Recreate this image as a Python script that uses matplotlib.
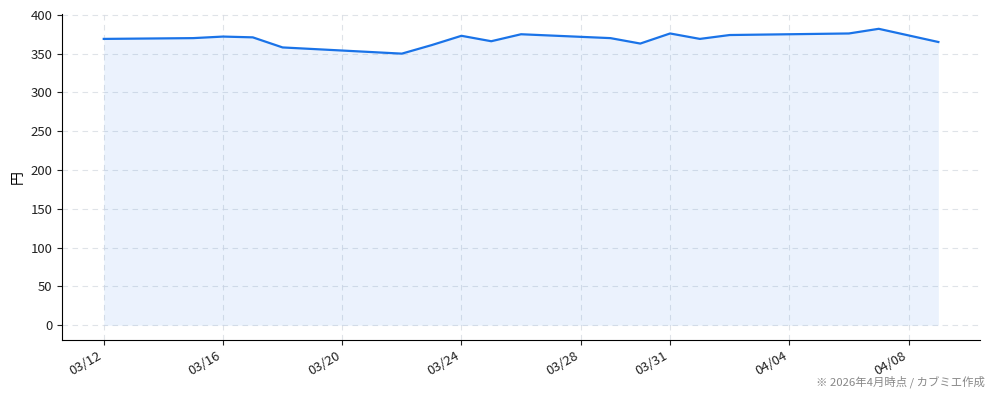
import matplotlib
matplotlib.use("Agg")
import matplotlib.pyplot as plt
import matplotlib.dates as mdates
import pandas as pd

plt.rcParams['font.family'] = ['Noto Sans CJK JP', 'DejaVu Sans']

dates = ["2026-03-12", "2026-03-15", "2026-03-16", "2026-03-17", "2026-03-18",
         "2026-03-22", "2026-03-23", "2026-03-24", "2026-03-25", "2026-03-26",
         "2026-03-29", "2026-03-30", "2026-03-31", "2026-04-01", "2026-04-02",
         "2026-04-06", "2026-04-07", "2026-04-09"]
prices = [369, 370, 372, 371, 358,
          350, 361, 373, 366, 375,
          370, 363, 376, 369, 374,
          376, 382, 365]
tick_dates = ["2026-03-12", "2026-03-16", "2026-03-20", "2026-03-24",
              "2026-03-28", "2026-03-31", "2026-04-04", "2026-04-08"]
y_label = "円"
note = "※ 2026年4月時点 / カブミエ作成"

x = pd.to_datetime(dates)
xt = pd.to_datetime(tick_dates)

fig = plt.figure(figsize=(9.94, 4.0), dpi=100)
ax = fig.add_axes([0.0624, 0.15, 0.9236, 0.815])

ax.fill_between(x, prices, 0, color="#1a73e8", alpha=0.085, linewidth=0)
ax.plot(x, prices, color="#1a73e8", linewidth=1.6)

ax.set_ylim(-19.1, 401.1)
ax.set_yticks(range(0, 401, 50))
ax.set_xticks(xt)
ax.xaxis.set_major_formatter(mdates.DateFormatter("%m/%d"))
plt.setp(ax.get_xticklabels(), rotation=30, ha="right")
ax.tick_params(labelsize=9.5, colors="#222222")

ax.grid(True, linestyle=(0, (5, 4)), color="#d8dce3", linewidth=0.8, alpha=0.8)
ax.set_axisbelow(True)
for s in ["top", "right"]:
    ax.spines[s].set_visible(False)

ax.set_ylabel(y_label, fontsize=10)

fig.text(0.991, 0.03, note, ha="right", va="bottom", fontsize=8.2, color="#888888")

fig.savefig("out.png", dpi=100)
